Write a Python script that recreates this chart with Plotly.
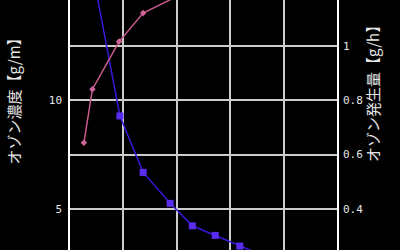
import plotly.graph_objects as go

# Ozone concentration (left axis)
x_conc = [0.49, 0.935, 1.37, 1.875, 2.29, 2.72, 3.18, 3.63]
conc = [15.0, 9.27, 6.68, 5.26, 4.23, 3.79, 3.30, 2.85]

# Ozone generation (right axis)
x_gen = [0.26, 0.42, 0.92, 1.37, 2.29]
gen = [0.643, 0.84, 1.015, 1.12, 1.209]

left_ticks = [5, 7.5, 10, 12.5]
left_text = ["5", "", "10", ""]
right_ticks = [0.4, 0.6, 0.8, 1.0]
right_text = ["0.4", "0.6", "0.8", "1"]

left_title = "オゾン濃度【g/m】"
right_title = "オゾン発生量【g/h】"

fig = go.Figure()
fig.add_trace(go.Scatter(
    x=x_conc, y=conc, mode="lines+markers", yaxis="y",
    line=dict(color="#3a18d8", width=1.5),
    marker=dict(symbol="square", size=7, color="#5a2cf0"),
    cliponaxis=True, showlegend=False))
fig.add_trace(go.Scatter(
    x=x_gen, y=gen, mode="lines+markers", yaxis="y2",
    line=dict(color="#c85a8c", width=1.5),
    marker=dict(symbol="diamond", size=5, color="#d0649a"),
    cliponaxis=True, showlegend=False))

grid_c = "#cccccc"
txt_c = "#e6e6e6"
tick_font = dict(family="DejaVu Sans Mono", size=11, color=txt_c)

fig.update_layout(
    width=400, height=250,
    margin=dict(l=70, r=62.5, t=0, b=0),
    paper_bgcolor="black", plot_bgcolor="black",
    xaxis=dict(range=[0, 5], dtick=1, tick0=0, showgrid=True, gridcolor=grid_c,
               gridwidth=1.5, showticklabels=False, zeroline=False, ticks=""),
    yaxis=dict(range=[3.12, 14.59], tickvals=left_ticks, ticktext=left_text,
               showgrid=True, gridcolor=grid_c, gridwidth=1.8, zeroline=False,
               showline=True, linecolor="white", linewidth=1.5,
               tickfont=tick_font, ticks="", ticklabelstandoff=4),
    yaxis2=dict(range=[0.249, 1.168], tickvals=right_ticks, ticktext=right_text,
                overlaying="y", side="right", showgrid=False, zeroline=False,
                showline=True, linecolor="white", linewidth=1.5,
                tickfont=tick_font, ticks="", ticklabelstandoff=2),
    annotations=[
        dict(text=left_title, xref="paper", yref="paper", x=-0.21, y=0.61,
             textangle=-90, showarrow=False, xanchor="center", yanchor="middle",
             font=dict(family="Noto Sans CJK JP", size=15, color=txt_c)),
        dict(text=right_title, xref="paper", yref="paper", x=1.133, y=0.638,
             textangle=-90, showarrow=False, xanchor="center", yanchor="middle",
             font=dict(family="Noto Sans CJK JP", size=15, color=txt_c)),
    ],
)

fig.write_html("out.html")
